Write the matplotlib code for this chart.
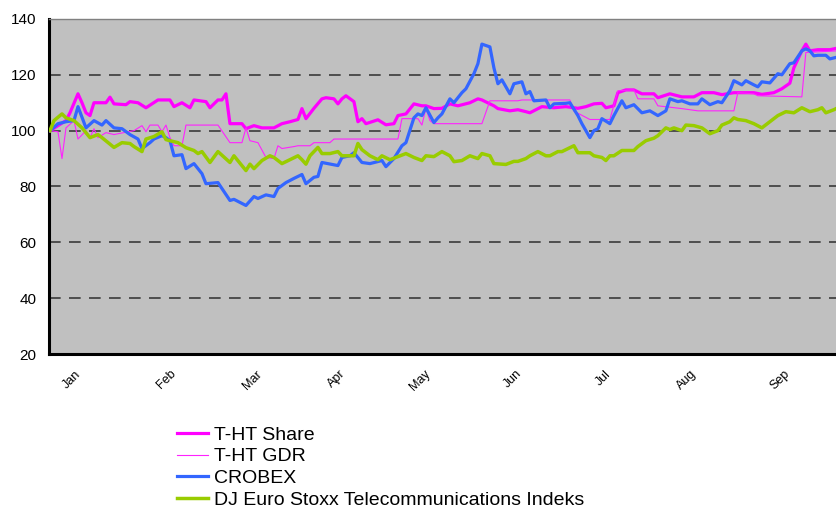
import matplotlib.pyplot as plt

# trading-day index vs. value (index, Jan 2 = 100)
share_day = [0, 2, 4, 5, 7, 8, 9, 10, 11, 14, 15, 16, 19, 20, 22, 24, 27, 30, 31, 33, 35, 36, 39, 40, 42, 43, 44, 45,
             48, 49, 51, 53, 56, 58, 60, 62, 63, 64, 66, 68, 69, 71, 72, 73, 74, 76, 77, 78, 79, 82, 84, 86, 87, 89,
             91, 93, 94, 96, 98, 100, 102, 105, 107, 108, 111, 112, 115, 117, 119, 120, 123, 126, 129, 132, 134, 136,
             138, 139, 141, 142, 144, 146, 148, 151, 152, 155, 158, 161, 163, 166, 168, 171, 176, 178, 181, 183, 185,
             186, 188, 189, 190, 192, 195, 197]
share = [100, 101.8, 103.6, 106.4, 113.2, 110, 106.4, 105.4, 110, 110, 112, 109.6, 109.3, 110.4, 110, 108.2, 111, 111,
         108.6, 110, 108.2, 111, 110.4, 108.2, 111, 111, 113.2, 102.5,
         102.5, 100.7, 101.8, 101, 101, 102.5, 103.2, 104, 107.9, 104.3, 108, 111.4, 111.8, 111.4, 109.6, 111.4, 112.5,
         110.4, 103.2, 104.3, 102.5, 103.9, 102.1, 102.5, 105.4, 106,
         109.6, 108.9, 108.9, 107.9, 108, 109.6, 108.9, 110, 111.4, 111, 108.9, 107.9, 107.1, 107.5, 106.8, 106.4,
         108.6, 108.2, 108.6, 108, 108.6, 109.6,
         109.8, 108.2, 108.9, 113.6, 114.6, 114.6, 113.2, 113.2, 111.8, 113.2, 112.1, 112.1, 113.6, 113.6, 112.9,
         113.6, 113.6, 113, 113.6, 115, 117,
         122.5, 128.6, 131, 128.6, 129, 129, 129.6]

gdr_day = [0, 2, 3, 4, 6, 7, 9, 10, 11, 12, 14, 16, 17, 21, 23, 24, 25, 27, 28, 29, 30, 31, 33, 34, 42, 45, 48, 49,
           50, 52, 54, 56, 57, 58, 61, 62, 65, 66, 70, 71, 87, 88, 92, 93, 94, 95, 96, 108, 110, 117, 118, 130, 131,
           135, 140, 142, 146, 147, 151, 152, 158, 162, 171, 172, 176, 177, 188, 189, 197]
gdr = [100, 99.6, 90, 101, 103.6, 97, 100, 97.5, 100.7, 97.5, 99.3, 98.6, 98.9, 100, 101.8, 99.6, 102, 102, 99.6,
       102, 97.5, 94.6, 94.6, 102, 102, 95.7, 95.7, 101,
       96.4, 95.7, 90.4, 90, 94.6, 93.6, 94.3, 94.6, 94.6, 95.7, 95.7, 97, 97, 104.3, 104.3, 102, 108, 103.6, 102.5,
       102.5, 110.7, 110.7, 111, 111, 107,
       104, 104, 114.3, 114.6, 111.4, 111.4, 108.9, 107.9, 107.1, 107.1, 113.6, 113.2, 112.5, 112.1, 128, 128.6]

crobex_day = [0, 2, 4, 6, 7, 9, 11, 13, 14, 16, 18, 20, 22, 23, 25, 26, 28, 29, 30, 31, 33, 34, 36, 38, 39, 42, 45,
              46, 49, 51, 52, 54, 56, 57, 59, 61, 63, 64, 66, 67, 68, 72, 73, 75, 76, 78, 80, 83, 84, 86, 88, 89, 91,
              92, 93, 94, 96, 97, 98, 100, 101, 103, 104, 106, 107, 108, 110, 111, 112, 113, 115, 116, 118, 119, 120,
              121, 124, 125, 126, 129, 130, 132, 133, 135, 136, 137, 138, 140, 141, 143, 144, 146, 148, 150, 152, 154,
              155, 157, 158, 160, 162, 163, 165, 167, 168, 170, 171, 173, 174, 176, 177, 178, 180, 182, 183, 185, 186,
              188, 189, 190, 191, 192, 194, 195, 197]
crobex = [100, 102.5, 103.2, 103.6, 108.6, 101, 103.6, 102, 103.6, 101, 100.7, 98.6, 97, 93.6, 95.7, 97, 98.2, 97.5,
          96.4, 91, 91.4, 86.4, 88.2, 84.6, 81, 81.4, 75,
          75.4, 73.2, 76.4, 75.7, 77, 76.4, 79.3, 81.4, 82.9, 84.3, 81, 83.3, 83.6, 88.6, 87.5, 90.4, 91, 92.1, 88.6,
          88.2, 89.3, 87.1, 90, 94.6, 95.7, 104.6,
          106, 105.4, 108.2, 102.9, 104.6, 106, 111.4, 110, 113.6, 115, 120.4, 124, 131, 130, 122.5, 116.8, 118.2,
          113.2, 116.8, 117.5, 113.2, 114,
          110.7, 111, 108.2, 109.6, 109.8, 110, 105.4, 102.5, 97.5, 100, 100.7, 104.3, 102.5, 105.4, 110.7, 108.2,
          109.3, 106.4, 107.1, 105.4, 107.1,
          111.4, 110.4, 110.7, 109.6, 109.6, 111.4, 109.3, 110.4, 110, 114.3, 117.9, 116.4, 117.9, 116.4, 115.7, 117.5,
          117.1, 120.4, 120, 124, 124.3,
          128.6, 129.3, 128.6, 126.8, 127, 127, 125.7, 126.4]

dj_day = [0, 1, 3, 4, 6, 8, 10, 12, 13, 16, 18, 20, 21, 23, 24, 26, 28, 29, 30, 32, 34, 36, 37, 38, 40, 42, 45, 46,
          49, 50, 51, 53, 55, 56, 58, 60, 62, 63, 64, 65, 67, 68, 70, 72, 73, 76, 77, 78, 80, 82, 83, 85, 87, 89, 91,
          93, 94, 96, 98, 100, 101, 103, 105, 107, 108, 110, 111, 114, 116, 117, 119, 120, 122, 124, 125, 127, 128,
          130, 131, 132, 135, 136, 138, 139, 140, 141, 143, 146, 147, 149, 151, 152, 154, 155, 156, 158, 159, 161,
          163, 165, 167, 168, 170, 171, 172, 174, 176, 178, 179, 182, 184, 186, 188, 190, 192, 193, 194, 196, 197]
dj = [100, 103.6, 106, 104.6, 103.6, 101, 97.5, 98.6, 97.5, 94, 95.7, 95.4, 94.3, 92.5, 97, 97.9, 99.6, 96.8, 96.4,
      95.7, 93.9, 92.9, 91.8, 92.5, 88.6, 92.5, 88.6, 91,
      85.7, 88, 86.4, 89.3, 91, 90.4, 88.2, 89.6, 91, 89.6, 88, 91, 94, 91.8, 91.8, 92.5, 91, 91, 95.4, 93.2, 91,
      89.6, 91, 89.6, 90.7, 91.8, 90.4,
      89.3, 91, 90.7, 92.5, 91, 88.9, 89.3, 91, 90, 91.8, 91, 88.2, 87.9, 89, 89, 90, 91, 92.5, 91, 91, 92.5, 92.5,
      93.9, 94.6, 92.1, 92.1, 91, 90.4, 89.3, 91, 91, 92.9, 92.9, 94.3, 96.4, 97.3, 98.2, 101, 100.4, 101, 100, 102,
      101.8,
      101, 98.9, 100, 102, 103.2, 104.6, 104, 103.6, 102.5, 101, 102.1, 105.4, 106.8, 106.4, 108.2, 106.8, 107.5,
      108.2, 106.4, 107.5, 108.2]

months = ['Jan', 'Feb', 'Mar', 'Apr', 'May', 'Jun', 'Jul', 'Aug', 'Sep']
month_day = [5.5, 29.25, 50.75, 71.75, 92.5, 115.75, 138.25, 159.25, 182.5]
y_ticks = [20, 40, 60, 80, 100, 120, 140]

plt.rcParams['font.family'] = ['Liberation Sans', 'DejaVu Sans']

fig = plt.figure(figsize=(8.36, 5.09), dpi=100)
ax = fig.add_axes([0.0586, 0.3045, 0.946, 0.6582])
ax.set_facecolor('#C0C0C0')

for v in y_ticks[1:-1]:
    ax.axhline(v, color='#3a3a3a', lw=1.2, ls=(0, (7, 5)), zorder=1)

ax.plot(share_day, share, color='#FF00FF', lw=2.3, label='T-HT Share', zorder=3)
ax.plot(gdr_day, gdr, color='#FF22FF', lw=0.8, label='T-HT GDR', zorder=3)
ax.plot(crobex_day, crobex, color='#3366FF', lw=2.3, label='CROBEX', zorder=3)
ax.plot(dj_day, dj, color='#99CC00', lw=2.5, label='DJ Euro Stoxx Telecommunications Indeks', zorder=3)

ax.set_xlim(-0.25, 197.5)
ax.set_ylim(20, 140)
ax.set_yticks(y_ticks)
ax.set_yticklabels([str(v) for v in y_ticks], fontsize=11)
ax.set_xticks(month_day)
ax.set_xticklabels(months, fontsize=9, rotation=45, ha='center')
ax.tick_params(axis='both', length=0)
ax.tick_params(axis='y', pad=9)
ax.tick_params(axis='x', pad=10)

ax.spines['left'].set_linewidth(2.2)
ax.spines['bottom'].set_linewidth(2.2)
ax.spines['top'].set_color('#808080')
ax.spines['top'].set_linewidth(1)
ax.spines['right'].set_visible(False)

fig.legend(loc='upper left', bbox_to_anchor=(177 / 836, 1 - 426 / 509), frameon=False, fontsize=14,
           handlelength=1.6, handletextpad=0.3, labelspacing=0.21, borderpad=0, borderaxespad=0)

plt.savefig('out.png', dpi=100)
